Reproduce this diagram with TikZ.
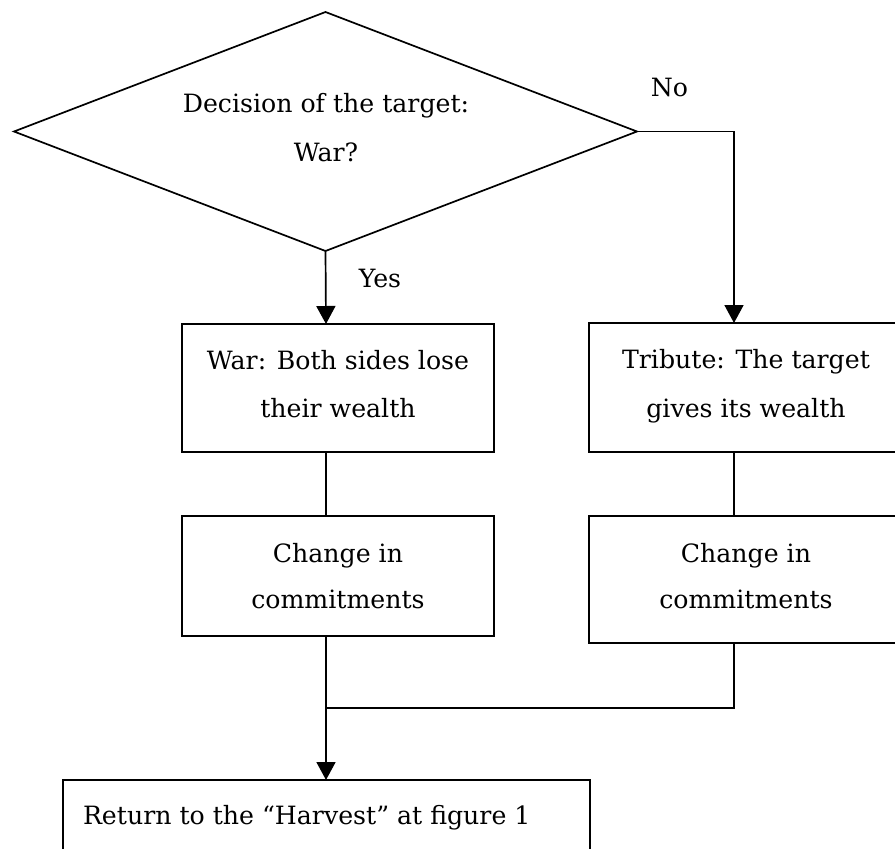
\documentclass[tikz,border=0pt]{standalone}
\usepackage{fontspec}
\setmainfont{DejaVu Serif}
\usetikzlibrary{shapes.geometric,arrows.meta}
\begin{document}
\begin{tikzpicture}[x=1pt,y=-1pt,
  line width=1.7pt,
  every node/.style={inner sep=0pt,outer sep=0pt},
  txt/.style={font=\fontsize{25.2}{30}\selectfont,anchor=base},
  flow/.style={-{Triangle[width=19pt,length=18pt]}}]
  % page area
  \fill[white] (0,0) rectangle (895,849);
  \useasboundingbox (0,0) rectangle (895,849);
  \clip (0,0) rectangle (895,849);

  % columns that the vertical connectors follow
  \coordinate (colL) at (326,0);
  \coordinate (colR) at (734,0);

  % decision
  \node[draw,diamond,minimum width=623pt,minimum height=239pt] (dec) at (325.5,131.5) {};
  \node[txt] (dec1) at (326,112) {Decision of the target:};
  \node[txt] (dec2) at (326,161) {War?};

  % branch labels
  \node[txt] (no) at (669.5,96) {No};
  \node[txt] (yes) at (380,287) {Yes};

  % outcome boxes
  \node[draw,minimum width=312pt,minimum height=128pt] (war) at (338,388) {};
  \node[txt] (war1) at (338,369) {War: Both sides lose};
  \node[txt] (war2) at (338,417) {their wealth};

  \node[draw,minimum width=312pt,minimum height=129pt] (trib) at (745,387.5) {};
  \node[txt] (trib1) at (746,368) {Tribute: The target};
  \node[txt] (trib2) at (746,417) {gives its wealth};

  % commitment boxes
  \node[draw,minimum width=312pt,minimum height=120pt] (chgL) at (338,576) {};
  \node[txt] (chgL1) at (338,562) {Change in};
  \node[txt] (chgL2) at (338,608) {commitments};

  \node[draw,minimum width=312pt,minimum height=127pt] (chgR) at (745,579.5) {};
  \node[txt] (chgR1) at (746,562) {Change in};
  \node[txt] (chgR2) at (746,608) {commitments};

  % return box
  \node[draw,minimum width=527pt,minimum height=120pt] (ret) at (326.5,840) {};
  \node[txt,anchor=base west] (ret1) at (83,824) {Return to the “Harvest” at figure 1};

  % connectors
  \draw[flow] (dec.south) -- (war.north -| colL);
  \draw[flow] (dec.east) -| (trib.north -| colR);
  \draw (war.south -| colL) -- (chgL.north -| colL);
  \draw (trib.south -| colR) -- (chgR.north -| colR);
  \coordinate (join) at (326,708);
  \draw[flow] (chgL.south -| colL) -- (ret.north -| colL);
  \draw (chgR.south -| colR) |- (join);
\end{tikzpicture}
\end{document}
